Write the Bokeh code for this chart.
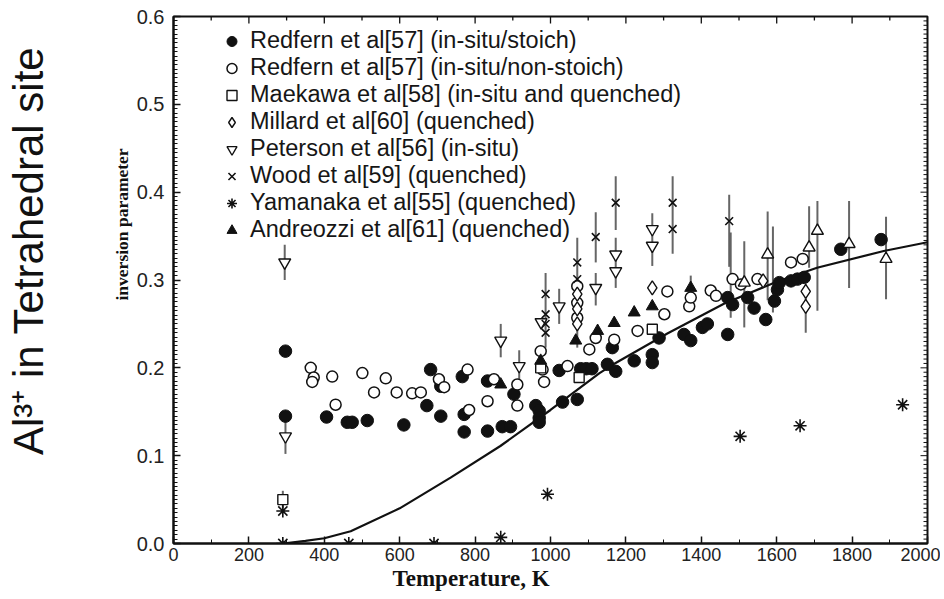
import numpy as np
from bokeh.plotting import figure
from bokeh.models import (Legend, LegendItem, Range1d, Title, LinearAxis,
                          FixedTicker, NumeralTickFormatter)
from bokeh.embed import file_html
from bokeh.resources import INLINE

# ---------------- data ----------------
stoich_T = [297, 297, 406, 461, 474, 514, 611, 672, 682, 709, 709, 766, 771, 771,
            833, 833, 872, 894, 903, 961, 970, 970, 970, 1023, 1032, 1071, 1080,
            1095, 1110, 1151, 1164, 1173, 1222, 1270, 1270, 1288, 1354, 1372, 1403,
            1416, 1470, 1470, 1483, 1523, 1540, 1571, 1594, 1602, 1607, 1638, 1655,
            1673, 1770, 1877]
stoich_v = [0.219, 0.145, 0.144, 0.138, 0.138, 0.140, 0.135, 0.157, 0.198, 0.179,
            0.145, 0.190, 0.147, 0.127, 0.185, 0.128, 0.133, 0.133, 0.170, 0.157,
            0.151, 0.143, 0.138, 0.197, 0.161, 0.164, 0.199, 0.199, 0.199, 0.204,
            0.223, 0.196, 0.208, 0.215, 0.206, 0.234, 0.238, 0.231, 0.246, 0.250,
            0.238, 0.280, 0.272, 0.280, 0.268, 0.255, 0.276, 0.289, 0.297, 0.299,
            0.301, 0.303, 0.335, 0.346]

nonstoich_T = [364, 372, 368, 421, 430, 501, 532, 563, 592, 633, 656, 704, 718, 780,
               784, 833, 850, 912, 912, 974, 979, 983, 1045, 1071, 1071, 1071, 1103,
               1120, 1169, 1231, 1302, 1310, 1368, 1372, 1425, 1439, 1483, 1505, 1549,
               1638, 1669]
nonstoich_v = [0.200, 0.189, 0.184, 0.190, 0.158, 0.194, 0.172, 0.188, 0.172, 0.171,
               0.172, 0.187, 0.178, 0.198, 0.152, 0.162, 0.187, 0.181, 0.157, 0.219,
               0.198, 0.184, 0.202, 0.293, 0.274, 0.257, 0.221, 0.234, 0.232, 0.242,
               0.261, 0.287, 0.270, 0.280, 0.288, 0.282, 0.301, 0.295, 0.301, 0.320,
               0.324]

maekawa_T = [290, 974, 1076, 1270]
maekawa_v = [0.050, 0.200, 0.189, 0.244]

millard_T = [1071, 1071, 1071, 1270, 1564, 1677, 1677]
millard_v = [0.284, 0.267, 0.250, 0.291, 0.299, 0.287, 0.270]

peterson_T = [295, 297, 868, 917, 975, 1023, 1120, 1173, 1173, 1270, 1270]
peterson_v = [0.320, 0.122, 0.231, 0.202, 0.252, 0.270, 0.291, 0.329, 0.310, 0.358, 0.339]

# open up-triangles at high temperature (not in the legend)
hiT_T = [1514, 1576, 1686, 1708, 1792, 1890]
hiT_v = [0.297, 0.329, 0.337, 0.356, 0.341, 0.324]

wood_T = [987, 987, 987, 987, 1071, 1071, 1120, 1173, 1324, 1324, 1474]
wood_v = [0.284, 0.261, 0.250, 0.240, 0.320, 0.301, 0.349, 0.388, 0.388, 0.358, 0.367]

yamanaka_T = [290, 290, 465, 691, 868, 992, 1503, 1662, 1934]
yamanaka_v = [0.037, 0.0, 0.0, 0.0, 0.007, 0.056, 0.122, 0.134, 0.158]

andreozzi_T = [868, 974, 1067, 1125, 1169, 1222, 1270, 1372]
andreozzi_v = [0.181, 0.208, 0.231, 0.242, 0.251, 0.263, 0.270, 0.291]

err_T = [295, 297, 290, 868, 917, 987, 1023, 1071, 1120, 1120, 1173, 1173, 1270,
         1324, 1372, 1474, 1478, 1514, 1576, 1590, 1677, 1686, 1708, 1792, 1890]
err_lo = [0.300, 0.102, 0.040, 0.212, 0.183, 0.223, 0.250, 0.223, 0.271, 0.320,
          0.357, 0.291, 0.316, 0.330, 0.280, 0.315, 0.257, 0.246, 0.277, 0.263,
          0.240, 0.314, 0.265, 0.291, 0.278]
err_hi = [0.340, 0.143, 0.060, 0.250, 0.220, 0.308, 0.290, 0.348, 0.308, 0.377,
          0.418, 0.348, 0.376, 0.418, 0.305, 0.397, 0.354, 0.344, 0.378, 0.361,
          0.295, 0.384, 0.390, 0.390, 0.372]

curve_T = [290, 350, 400, 470, 600, 735, 867, 1000, 1130, 1167, 1310, 1460, 1600,
           1707, 1884, 2000]
curve_v = [0.0, 0.003, 0.006, 0.014, 0.040, 0.075, 0.111, 0.152, 0.194, 0.204,
           0.239, 0.273, 0.298, 0.314, 0.333, 0.343]

x_ticks = [0, 200, 400, 600, 800, 1000, 1200, 1400, 1600, 1800, 2000]
x_minor = list(range(0, 2001, 100))
y_ticks = [0.0, 0.1, 0.2, 0.3, 0.4, 0.5, 0.6]
y_minor = [round(i * 0.005, 3) for i in range(121)]

legend_labels = ["Redfern et al[57] (in-situ/stoich)",
                 "Redfern et al[57] (in-situ/non-stoich)",
                 "Maekawa et al[58] (in-situ and quenched)",
                 "Millard et al[60] (quenched)",
                 "Peterson et al[56] (in-situ)",
                 "Wood et al[59] (quenched)",
                 "Yamanaka et al[55] (quenched)",
                 "Andreozzi et al[61] (quenched)"]

# ---------------- figure ----------------
W, H = 940, 596
ML, MR, MT, MB = 173, 13, 16, 53
p = figure(width=W, height=H, x_range=Range1d(0, 2000), y_range=Range1d(0, 0.6),
           output_backend="svg", toolbar_location=None,
           min_border_left=ML, min_border_right=MR, min_border_top=MT,
           min_border_bottom=MB)
p.xgrid.visible = False
p.ygrid.visible = False
p.outline_line_color = "#111111"
p.outline_line_width = 2
p.background_fill_color = "white"
p.border_fill_color = "white"

fw = W - ML - MR
fh = H - MT - MB
kx = 2000 / fw      # data units per pixel
ky = 0.6 / fh

for ax, ticks, minor, fmt, fs, so in ((p.xaxis[0], x_ticks, x_minor, "0", "18px", 4),
                                      (p.yaxis[0], y_ticks, y_minor, "0.0", "20px", 9)):
    ax.ticker = FixedTicker(ticks=ticks, minor_ticks=minor)
    ax.formatter = NumeralTickFormatter(format=fmt)
    ax.axis_line_color = "#111111"
    ax.axis_line_width = 2
    ax.major_tick_in = 7
    ax.major_tick_out = 0
    ax.minor_tick_in = 4
    ax.minor_tick_out = 0
    ax.major_tick_line_color = "#111111"
    ax.minor_tick_line_color = "#111111"
    ax.major_tick_line_width = 1.5
    ax.minor_tick_line_width = 1
    ax.major_label_text_font = "Liberation Sans"
    ax.major_label_text_font_size = fs
    ax.major_label_text_color = "#222222"
    ax.major_label_standoff = so

# mirrored inward ticks on the top and right edges, from the tick lists
top_len = [7 if t in x_ticks else 4 for t in x_minor]
p.segment(x0=x_minor, x1=x_minor, y0=[0.6] * len(x_minor),
          y1=[0.6 - l * ky for l in top_len], line_color="#111111", line_width=1.3)
right_len = [7 if any(abs(t - m) < 1e-9 for m in y_ticks) else 4 for t in y_minor]
p.segment(x0=[2000] * len(y_minor), x1=[2000 - l * kx for l in right_len],
          y0=y_minor, y1=y_minor, line_color="#111111", line_width=1)

# ---------------- marks ----------------
p.segment(x0=err_T, y0=err_lo, x1=err_T, y1=err_hi, line_color="#555555",
          line_width=2, line_alpha=0.9)
p.line(curve_T, curve_v, line_color="#111111", line_width=2.2)

k = "#111111"
r_st = p.scatter(stoich_T, stoich_v, marker="circle", size=12.5, fill_color=k, line_color=k)
r_ns = p.scatter(nonstoich_T, nonstoich_v, marker="circle", size=11, fill_color="white",
                 line_color=k, line_width=1.5)
r_mk = p.scatter(maekawa_T, maekawa_v, marker="square", size=10, fill_color="white",
                 line_color=k, line_width=1.4)
r_ml = p.scatter(millard_T, millard_v, marker="diamond", size=14, fill_color="white",
                 line_color=k, line_width=1.4)
r_pt = p.scatter(peterson_T, peterson_v, marker="inverted_triangle", size=12,
                 fill_color="white", line_color=k, line_width=1.4)
p.scatter(hiT_T, hiT_v, marker="triangle", size=12, fill_color="white",
          line_color=k, line_width=1.4)
r_wd = p.scatter(wood_T, wood_v, marker="x", size=11, line_color=k, line_width=1.6)
r_ym = p.scatter(yamanaka_T, yamanaka_v, marker="asterisk", size=13, line_color=k,
                 line_width=1.6)
r_an = p.scatter(andreozzi_T, andreozzi_v, marker="triangle", size=12, fill_color=k,
                 line_color=k)

renderers = [r_st, r_ns, r_mk, r_ml, r_pt, r_wd, r_ym, r_an]
legend = Legend(items=[LegendItem(label=l, renderers=[r]) for l, r in zip(legend_labels, renderers)],
                location=(46, 300), orientation="vertical",
                label_text_font="Liberation Sans", label_text_font_size="23.5px",
                label_text_color="#161616", glyph_width=25, glyph_height=26,
                label_height=26, spacing=0, padding=0, margin=0, label_standoff=6,
                border_line_color=None, background_fill_alpha=0)
p.add_layout(legend)

# ---------------- axis titles ----------------
p.add_layout(Title(text="Temperature, K", align="left", offset=219,
                   text_font="Liberation Serif", text_font_style="bold",
                   text_font_size="23px", text_color="#111111", standoff=0), "below")
p.add_layout(Title(text="inversion parameter", align="left", offset=243,
                   text_font="Liberation Serif", text_font_style="bold",
                   text_font_size="17.5px", text_color="#111111", standoff=4), "left")

# outer, tick-less axis that carries the big descriptive label
outer = LinearAxis(ticker=FixedTicker(ticks=[], minor_ticks=[]))
outer.axis_line_color = None
outer.major_tick_line_color = None
outer.minor_tick_line_color = None
outer.major_tick_in = 0
outer.major_tick_out = 0
outer.major_label_standoff = 0
outer.axis_label = "\u00a0" * 5 + "Al\u00b3\u207a in Tetrahedral site"
outer.axis_label_text_font = "Liberation Sans"
outer.axis_label_text_font_style = "normal"
outer.axis_label_text_font_size = "42px"
outer.axis_label_text_color = "#111111"
outer.axis_label_standoff = 56
p.add_layout(outer, "left")

open("out.html", "w").write(file_html(p, INLINE))
